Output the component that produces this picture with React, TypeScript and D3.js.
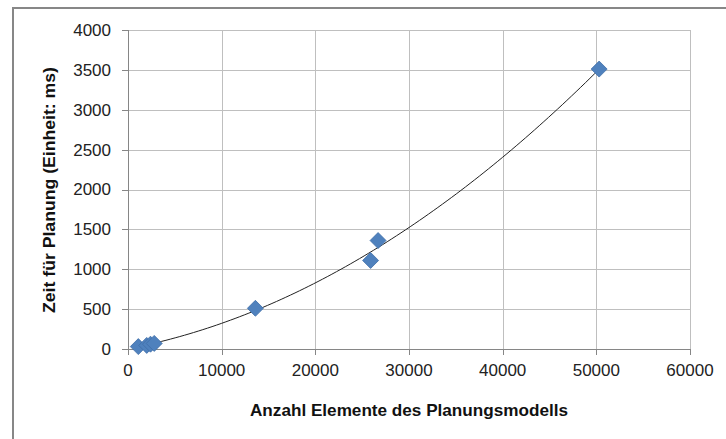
import React from "react";
import * as d3 from "d3";

const elements: number[] = [1100, 2000, 2400, 2800, 13600, 25900, 26700, 50300];
const timesMs: number[] = [30, 45, 60, 70, 510, 1110, 1360, 3510];
const xTicks: number[] = [0, 10000, 20000, 30000, 40000, 50000, 60000];
const yTicks: number[] = [0, 500, 1000, 1500, 2000, 2500, 3000, 3500, 4000];
const xTitle = "Anzahl Elemente des Planungsmodells";
const yTitle = "Zeit für Planung (Einheit: ms)";

function quadFit(xs: number[], ys: number[]) {
  const s = xs.map((x) => x / 10000);
  const S = [0, 0, 0, 0, 0];
  const T = [0, 0, 0];
  s.forEach((x, i) => {
    for (let k = 0; k < 5; k++) S[k] += Math.pow(x, k);
    for (let k = 0; k < 3; k++) T[k] += Math.pow(x, k) * ys[i];
  });
  const A = [
    [S[0], S[1], S[2], T[0]],
    [S[1], S[2], S[3], T[1]],
    [S[2], S[3], S[4], T[2]],
  ];
  for (let i = 0; i < 3; i++) {
    for (let j = i + 1; j < 3; j++) {
      const f = A[j][i] / A[i][i];
      for (let k = i; k < 4; k++) A[j][k] -= f * A[i][k];
    }
  }
  const c = [0, 0, 0];
  for (let i = 2; i >= 0; i--) {
    let v = A[i][3];
    for (let k = i + 1; k < 3; k++) v -= A[i][k] * c[k];
    c[i] = v / A[i][i];
  }
  return (x: number) => {
    const t = x / 10000;
    return c[0] + c[1] * t + c[2] * t * t;
  };
}

export default function App() {
  const W = 726, H = 439;
  const left = 128, right = 690, top = 30, bottom = 349;
  const x = d3.scaleLinear().domain([0, 60000]).range([left, right]);
  const y = d3.scaleLinear().domain([0, 4000]).range([bottom, top]);
  const fit = quadFit(elements, timesMs);
  const xMin = d3.min(elements)!, xMax = d3.max(elements)!;
  const trendPts: [number, number][] = d3.range(0, 101).map((i) => {
    const v = xMin + ((xMax - xMin) * i) / 100;
    return [v, fit(v)];
  });
  const line = d3.line<[number, number]>().x((d) => x(d[0])).y((d) => y(d[1]));
  const font = "'Liberation Sans', Arial, sans-serif";
  const diamond = (cx: number, cy: number, r: number) =>
    `M${cx},${cy - r}L${cx + r},${cy}L${cx},${cy + r}L${cx - r},${cy}Z`;

  return (
    <svg width={W} height={H} style={{ position: "absolute", left: 0, top: 0, display: "block" }}>
      <rect x={0} y={0} width={W} height={H} fill="#fff" />
      <rect x={13} y={8} width={800} height={600} fill="none" stroke="#878787" strokeWidth={2} />
      {/* gridlines */}
      {yTicks.map((t) => (
        <line key={"gy" + t} x1={left} x2={right} y1={Math.round(y(t)) + 0.5} y2={Math.round(y(t)) + 0.5} stroke="#bfbfbf" strokeWidth={1} />
      ))}
      {xTicks.map((t) => (
        <line key={"gx" + t} x1={Math.round(x(t)) + 0.5} x2={Math.round(x(t)) + 0.5} y1={top} y2={bottom} stroke="#bfbfbf" strokeWidth={1} />
      ))}
      {/* axes */}
      <line x1={left + 0.5} x2={left + 0.5} y1={top} y2={bottom + 0.5} stroke="#868686" />
      <line x1={left} x2={right} y1={bottom + 0.5} y2={bottom + 0.5} stroke="#868686" />
      {yTicks.map((t) => (
        <line key={"ty" + t} x1={left - 6} x2={left} y1={Math.round(y(t)) + 0.5} y2={Math.round(y(t)) + 0.5} stroke="#868686" />
      ))}
      {xTicks.map((t) => (
        <line key={"tx" + t} x1={Math.round(x(t)) + 0.5} x2={Math.round(x(t)) + 0.5} y1={bottom} y2={bottom + 6} stroke="#868686" />
      ))}
      {/* tick labels */}
      {yTicks.map((t) => (
        <text key={"ly" + t} x={left - 17} y={y(t)} dy="0.35em" textAnchor="end" fontFamily={font} fontSize={17} fill="#222">
          {t}
        </text>
      ))}
      {xTicks.map((t) => (
        <text key={"lx" + t} x={x(t)} y={bottom + 27} textAnchor="middle" fontFamily={font} fontSize={17} fill="#222">
          {t}
        </text>
      ))}
      {/* trendline */}
      <path d={line(trendPts) || ""} fill="none" stroke="#222" strokeWidth={1} />
      {/* points */}
      {elements.map((e, i) => (
        <path key={"p" + i} d={diamond(x(e), y(timesMs[i]), 8)} fill="#4f81bd" stroke="#3f6fa8" strokeWidth={0.8} />
      ))}
      {/* titles */}
      <text x={409} y={416} textAnchor="middle" fontFamily={font} fontWeight="bold" fontSize={17} fill="#111" textLength={318} lengthAdjust="spacingAndGlyphs">
        {xTitle}
      </text>
      <text transform={`translate(55,190) rotate(-90)`} textAnchor="middle" fontFamily={font} fontWeight="bold" fontSize={17} fill="#111" textLength={246} lengthAdjust="spacingAndGlyphs">
        {yTitle}
      </text>
    </svg>
  );
}
